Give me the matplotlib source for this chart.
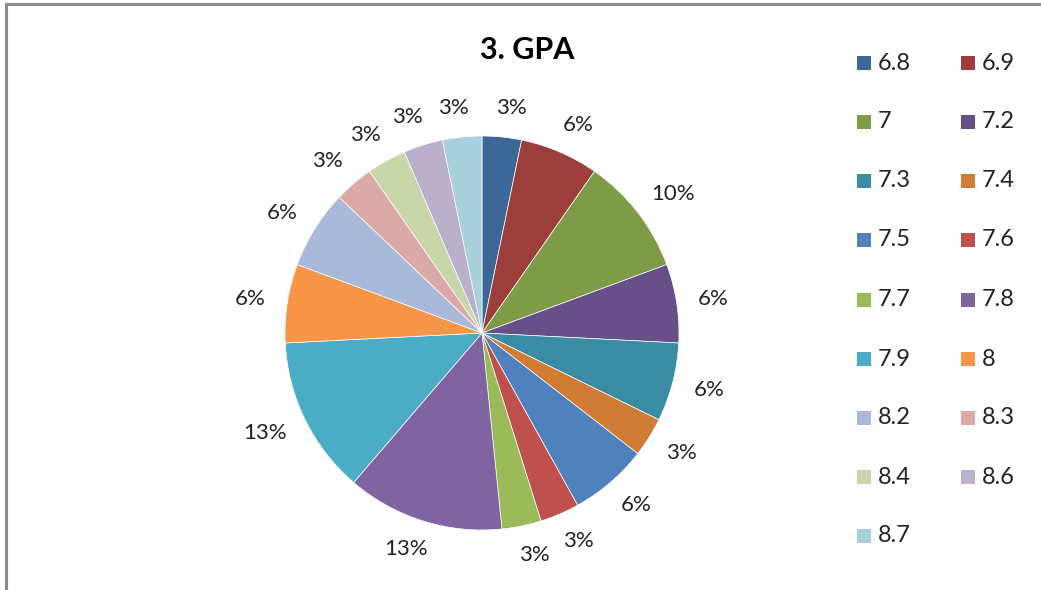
import numpy as np
import matplotlib
matplotlib.use("Agg")
import matplotlib.pyplot as plt
from matplotlib.patches import Rectangle
from matplotlib.lines import Line2D

# GPA categories and student counts (31 students)
gpa = ["6.8", "6.9", "7", "7.2", "7.3", "7.4", "7.5", "7.6", "7.7",
       "7.8", "7.9", "8", "8.2", "8.3", "8.4", "8.6", "8.7"]
counts = [1, 2, 3, 2, 2, 1, 2, 1, 1, 4, 4, 2, 2, 1, 1, 1, 1]
colors = ["#3C6898", "#9C3E3B", "#7E9B48", "#67508A", "#3A8CA5", "#D07C35",
          "#4F81BD", "#C0504D", "#9BBB59", "#8064A2", "#4BACC6", "#F79646",
          "#A9B9DA", "#DBA9A8", "#C7D7AA", "#BBB0CC", "#A9D0DD"]

plt.rcParams['font.family'] = ['Lato', 'DejaVu Sans']

W, H = 1041, 590
fig = plt.figure(figsize=(W / 100, H / 100), dpi=100)

# chart border (left and top edges visible)
fig.add_artist(Line2D([6 / W, 6 / W], [0, 1 - 4 / H], color="#8c8c8c", lw=2.2))
fig.add_artist(Line2D([6 / W, 1], [1 - 4 / H, 1 - 4 / H], color="#8c8c8c", lw=2.2))

cx, cy, r = 482, 333, 197
ax = fig.add_axes([(cx - r) / W, (H - cy - r) / H, 2 * r / W, 2 * r / H])

wedges, _ = ax.pie(counts, colors=colors, startangle=90, counterclock=False,
                   radius=1, wedgeprops=dict(linewidth=0.5, edgecolor="white"))
ax.set_xlim(-1, 1)
ax.set_ylim(-1, 1)
ax.set_aspect("equal")
ax.axis("off")

# percent labels, pushed outside so the text box sits just off the rim
total = sum(counts)
labels = []
for w, c in zip(wedges, counts):
    ang = np.deg2rad((w.theta1 + w.theta2) / 2)
    t = ax.text(0, 0, "%d%%" % round(100 * c / total), ha="center", va="center",
                fontsize=16, color="#222222")
    labels.append((t, ang))

fig.canvas.draw()
rend = fig.canvas.get_renderer()
for t, ang in labels:
    bb = t.get_window_extent(rend)
    x, y = np.cos(ang), np.sin(ang)
    d = 1.12
    px = d * x + (bb.width / 2 - 2) * x / r + 6 * np.sign(x) * (1 - abs(x)) / r
    py = d * y + (bb.height / 2 - 4) * y / r
    t.set_position((px, py))

fig.text(527 / W, 1 - 50 / H, "3. GPA", ha="center", va="center",
         fontsize=22, fontweight="bold", color="black")

# legend, two columns
rows_y = [63, 122, 181, 240, 300, 359, 418, 477, 536]
col_x = [857, 961]
for i, (lab, col) in enumerate(zip(gpa, colors)):
    row, cc = divmod(i, 2)
    x0 = col_x[cc]
    y0 = rows_y[row]
    fig.add_artist(Rectangle((x0 / W, (H - y0 - 7) / H), 14 / W, 14 / H,
                             facecolor=col, edgecolor="none"))
    fig.text((x0 + 21) / W, 1 - y0 / H, lab, ha="left", va="center",
             fontsize=17, color="#222222")

plt.savefig("out.png", dpi=100)
